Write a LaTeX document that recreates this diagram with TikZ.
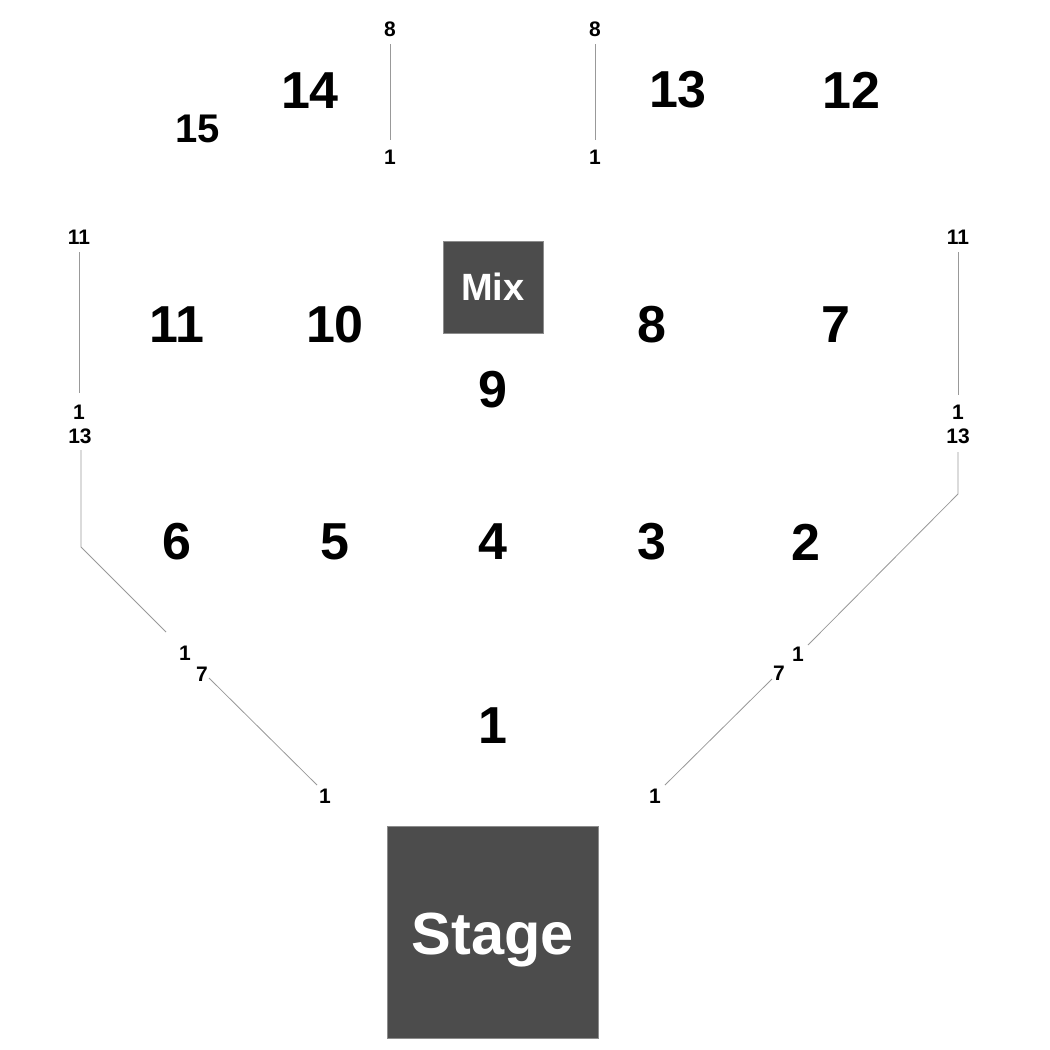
\documentclass[tikz,border=0pt]{standalone}
\usepackage{fontspec}
\setmainfont{Liberation Sans}
\begin{document}
\begin{tikzpicture}[x=1pt,y=-1pt,
  big/.style={inner sep=0pt,font=\fontsize{52}{52}\selectfont\bfseries},
  mid/.style={inner sep=0pt,font=\fontsize{40}{40}\selectfont\bfseries},
  sm/.style={inner sep=0pt,font=\fontsize{21}{21}\selectfont\bfseries},
  rowline/.style={draw=black!40,line width=0.8pt},
  box/.style={fill=black!70,draw=black!45,line width=0.8pt}]
\useasboundingbox (0,0) rectangle (1050,1050);
% stage and mix
\draw[box] (387,826) rectangle (598,1038);
\node[anchor=base,text=white,font=\fontsize{59.5}{59.5}\selectfont\bfseries] (stage) at (493,954) {Stage};
\draw[box] (443,241) rectangle (543,333);
\node[anchor=base,text=white,font=\fontsize{38}{38}\selectfont\bfseries] (mix) at (493,300) {Mix};
% section numbers
\node[big] (s14) at (310,91) {14};
\node[mid] (s15) at (198,129) {15};
\node[big] (s13) at (678,90) {13};
\node[big] (s12) at (851,90) {12};
\node[big] (s11) at (177,325) {11};
\node[big] (s10) at (335,325) {10};
\node[big] (s8) at (652,325) {8};
\node[big] (s7) at (836,325) {7};
\node[big] (s9) at (493,390) {9};
\node[big] (s6) at (177,542) {6};
\node[big] (s5) at (335,542) {5};
\node[big] (s4) at (493,542) {4};
\node[big] (s3) at (652,542) {3};
\node[big] (s2) at (806,542) {2};
\node[big] (s1) at (493,726) {1};
% top row labels
\node[sm] (a8) at (390,29) {8};
\node[sm] (a1) at (390,157) {1};
\node[sm] (b8) at (595,29) {8};
\node[sm] (b1) at (595,157) {1};
\coordinate (a8e) at (390,44); \coordinate (a1e) at (390,140);
\coordinate (b8e) at (595,44); \coordinate (b1e) at (595,140);
\draw[rowline] (a8e) -- (a1e);
\draw[rowline] (b8e) -- (b1e);
% left side
\node[sm] (l11) at (79,237) {11};
\node[sm] (l1) at (79,412) {1};
\node[sm] (l13) at (80,436) {13};
\node[sm] (l1b) at (185,653) {1};
\node[sm] (l7) at (202,674) {7};
\node[sm] (l1c) at (325,796) {1};
\coordinate (l11e) at (79,252); \coordinate (l1e) at (79,393);
\coordinate (l13e) at (81,450); \coordinate (lc) at (81,547);
\coordinate (l1be) at (166,632);
\coordinate (l7e) at (209,678); \coordinate (l1ce) at (317,785);
\draw[rowline] (l11e) -- (l1e);
\draw[rowline] (l13e) -- (lc) -- (l1be);
\draw[rowline] (l7e) -- (l1ce);
% right side
\node[sm] (r11) at (958,237) {11};
\node[sm] (r1) at (958,412) {1};
\node[sm] (r13) at (958,436) {13};
\node[sm] (r1b) at (798,654) {1};
\node[sm] (r7) at (779,673) {7};
\node[sm] (r1c) at (655,796) {1};
\coordinate (r11e) at (958,252); \coordinate (r1e) at (958,395);
\coordinate (r13e) at (958,452); \coordinate (rc) at (958,494);
\coordinate (r1be) at (808,645);
\coordinate (r7e) at (772,679); \coordinate (r1ce) at (665,785);
\draw[rowline] (r11e) -- (r1e);
\draw[rowline] (r13e) -- (rc) -- (r1be);
\draw[rowline] (r7e) -- (r1ce);
\end{tikzpicture}
\end{document}
